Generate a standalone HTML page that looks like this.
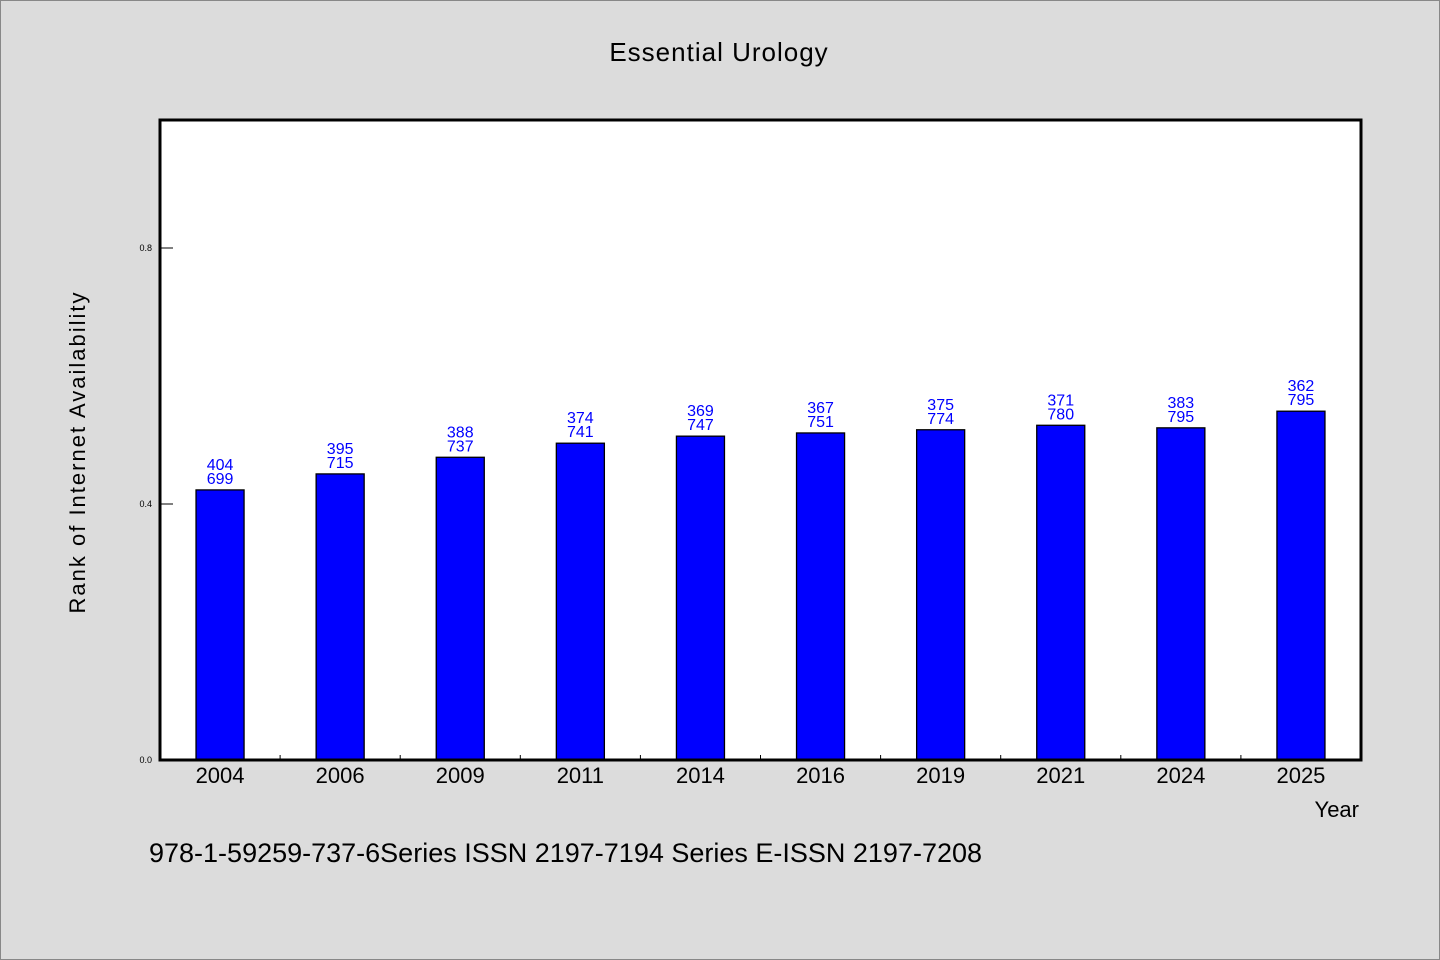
<!DOCTYPE html>
<html><head><meta charset="utf-8"><style>
html,body{margin:0;padding:0;background:#dcdcdc;}
svg{display:block;font-family:"WenQuanYi Zen Hei","Liberation Sans",sans-serif;}
</style></head><body>
<svg id="chart" width="1440" height="960" viewBox="0 0 1440 960">
<rect x="0.5" y="0.5" width="1439" height="959" fill="#dcdcdc" stroke="#888"/>
<text x="719" y="61" text-anchor="middle" font-size="26" fill="#000" letter-spacing="1">Essential Urology</text>
<rect x="160" y="120" width="1201" height="640" fill="#fff"/>
<g id="bars"></g>
<g id="axes"></g>
<rect x="160" y="120" width="1201" height="640" fill="none" stroke="#000" stroke-width="3"/>
<text x="85" y="452" text-anchor="middle" font-size="22" letter-spacing="2" transform="rotate(-90 85 452)">Rank of Internet Availability</text>
<text x="1359" y="817" text-anchor="end" font-size="22">Year</text>
<text x="149" y="862" font-size="27">978-1-59259-737-6Series ISSN 2197-7194 Series E-ISSN 2197-7208</text>
</svg>
<script>
const categories=["2004","2006","2009","2011","2014","2016","2019","2021","2024","2025"];
const values=[0.422,0.447,0.473,0.495,0.506,0.511,0.516,0.523,0.519,0.545];
const labelTop=["404","395","388","374","369","367","375","371","383","362"];
const labelBottom=["699","715","737","741","747","751","774","780","795","795"];
const yTicks=[0,0.4,0.8];
const yTickLabels=["0.0","0.4","0.8"];

const NS="http://www.w3.org/2000/svg";
const X0=160,X1=1361,Y0=760,Y1=120;
const band=(X1-X0)/categories.length;
const xC=i=>X0+band*(i+0.5);
const yS=v=>Y0-(Y0-Y1)*v;
function mk(t,a){const e=document.createElementNS(NS,t);for(const k in a)e.setAttribute(k,a[k]);return e;}
const bars=document.getElementById('bars'),axes=document.getElementById('axes');
categories.forEach((c,i)=>{
  const w=band*0.4,top=yS(values[i]);
  const r=mk('rect',{x:xC(i)-w/2,y:top,width:w,height:Y0-top,fill:'#0000ff',stroke:'#000','stroke-width':1.3});
  
  
  bars.appendChild(r);
  const t1=mk('text',{x:xC(i),y:top-20,'text-anchor':'middle','font-size':16,fill:'#0000ff'});
  t1.textContent=labelTop[i];
  
  
  bars.appendChild(t1);
  const t2=mk('text',{x:xC(i),y:top-6,'text-anchor':'middle','font-size':16,fill:'#0000ff'});
  t2.textContent=labelBottom[i];
  
  
  bars.appendChild(t2);
  const xl=mk('text',{x:xC(i),y:783,'text-anchor':'middle','font-size':22});
  xl.textContent=c;
  
  
  axes.appendChild(xl);
  if(i>0){
    const tk=mk('line',{x1:X0+band*i,x2:X0+band*i,y1:Y0,y2:Y0-5,stroke:'#000','stroke-width':1});
    
    
    axes.appendChild(tk);
  }
});
yTicks.forEach((v,i)=>{
  const y=yS(v);
  const tk=mk('line',{x1:X0,x2:X0+13,y1:y,y2:y,stroke:'#000','stroke-width':1});
  
  
  axes.appendChild(tk);
  const tl=mk('text',{x:152,y:y+3,'text-anchor':'end','font-size':9});
  tl.textContent=yTickLabels[i];
  
  
  axes.appendChild(tl);
});
</script>
</body></html>
